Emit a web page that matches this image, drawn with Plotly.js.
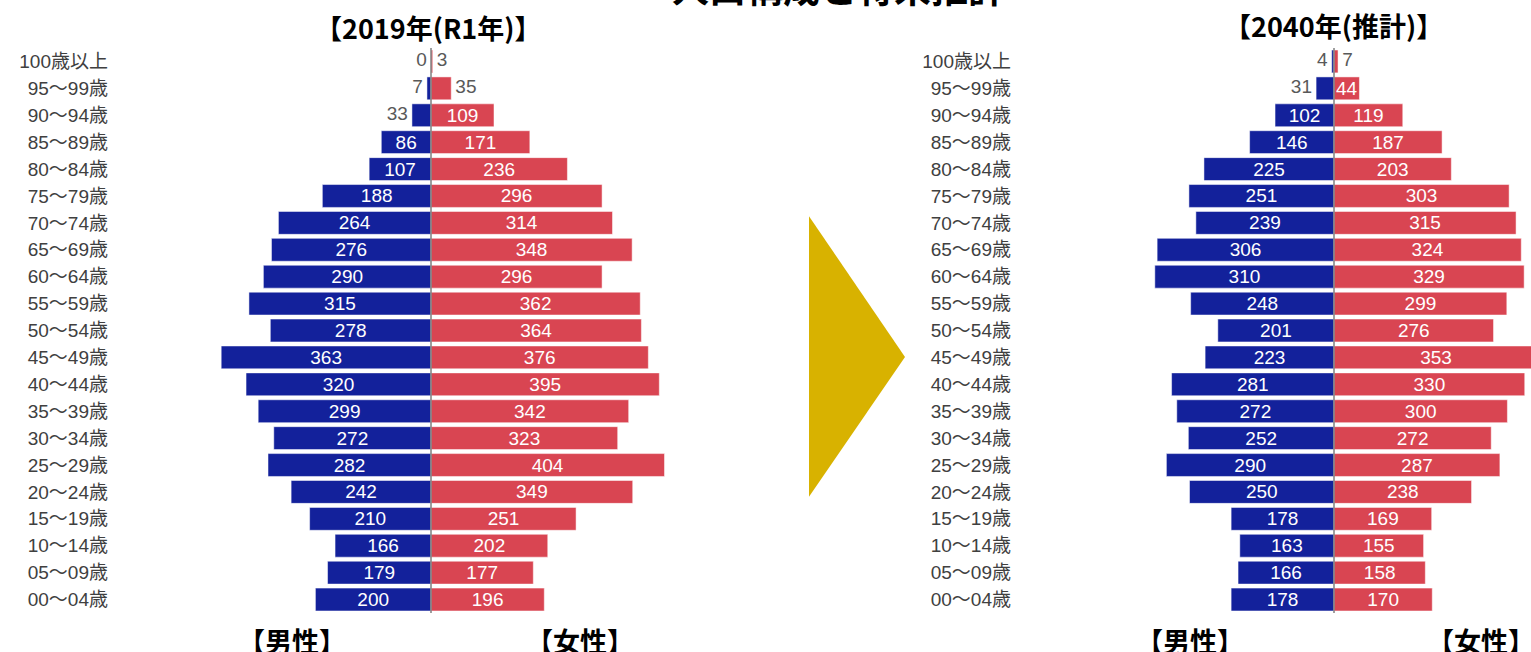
<!DOCTYPE html>
<html>
<head>
<meta charset="utf-8">
<script src="https://cdn.plot.ly/plotly-3.0.1.min.js"></script>
<style>html,body{margin:0;padding:0;background:#fff;overflow:hidden;}#chart{width:1545px;height:652px;}</style>
</head>
<body>
<div id="chart"></div>
<script>
// Age groups, bottom to top
const ageGroups = ["00～04歳","05～09歳","10～14歳","15～19歳","20～24歳","25～29歳","30～34歳","35～39歳","40～44歳","45～49歳","50～54歳","55～59歳","60～64歳","65～69歳","70～74歳","75～79歳","80～84歳","85～89歳","90～94歳","95～99歳","100歳以上"];
const male2019   = [200,179,166,210,242,282,272,299,320,363,278,315,290,276,264,188,107,86,33,7,0];
const female2019 = [196,177,202,251,349,404,323,342,395,376,364,362,296,348,314,296,236,171,109,35,3];
const male2040   = [178,166,163,178,250,290,252,272,281,223,201,248,310,306,239,251,225,146,102,31,4];
const female2040 = [170,158,155,169,238,287,272,300,330,353,276,299,329,324,315,303,203,187,119,44,7];

const title2019 = "【2019年(R1年)】";
const title2040 = "【2040年(推計)】";
const mainTitle = "人口構成と将来推計";
const maleLabel = "【男性】";
const femaleLabel = "【女性】";

const W = 1545, H = 652, MT = 47.5, MB = 38.5;
const PH = H - MT - MB;
const px = v => v / W;
const py = v => (H - MB - v) / PH;

const BLUE = "#13219B", RED = "#D94552";
const numFont = "Liberation Sans, Arial, sans-serif";
const cjkBold = "Noto Sans CJK JP, sans-serif";
const SMALL = 40; // values below this are labelled outside the bar

function barTrace(vals, sign, color, xa, ya){
  return {
    type: "bar", orientation: "h",
    y: ageGroups, x: vals.map(v => sign * v),
    text: vals.map(v => String(v)),
    textposition: vals.map(v => v >= SMALL ? "inside" : "none"),
    insidetextanchor: "middle",
    constraintext: "none",
    cliponaxis: false,
    insidetextfont: {family: numFont, size: 19, color: "#ffffff"},
    marker: {color: color, line: {color: "#ffffff", width: 0.5}},
    xaxis: xa, yaxis: ya,
    hoverinfo: "skip", showlegend: false
  };
}
function outsideLabels(vals, sign, xa, ya){
  return {
    type: "scatter", mode: "markers+text",
    y: ageGroups, x: vals.map(v => sign * v),
    text: vals.map(v => v < SMALL ? String(v) : ""),
    textposition: sign < 0 ? "middle left" : "middle right",
    textfont: {family: numFont, size: 19, color: "#595959"},
    marker: {size: 5, color: "rgba(0,0,0,0)"},
    cliponaxis: false,
    xaxis: xa, yaxis: ya,
    hoverinfo: "skip", showlegend: false
  };
}

const traces = [
  barTrace(male2019, -1, BLUE, "x", "y"),
  barTrace(female2019, 1, RED, "x", "y"),
  barTrace(male2040, -1, BLUE, "x2", "y2"),
  barTrace(female2040, 1, RED, "x2", "y2"),
  outsideLabels(male2019, -1, "x", "y"),
  outsideLabels(female2019, 1, "x", "y"),
  outsideLabels(male2040, -1, "x2", "y2"),
  outsideLabels(female2040, 1, "x2", "y2")
];

const scale = 0.578;
const c1 = 431, c2 = 1334;
const l1 = 115, r1 = 760, l2 = 1018, r2 = W;

const yax = {
  type: "category", categoryorder: "array", categoryarray: ageGroups,
  range: [-0.5, 20.5], showgrid: false, showline: false, ticks: "",
  ticklabelstandoff: 6,
  tickfont: {family: "Liberation Sans, Noto Sans CJK JP, sans-serif", size: 19, color: "#404040"},
  fixedrange: true
};
const xax = {
  showgrid: false, showticklabels: false, ticks: "", showline: false,
  zeroline: false, fixedrange: true
};

const layout = {
  width: W, height: H,
  margin: {l: 0, r: 0, t: MT, b: MB, pad: 0},
  paper_bgcolor: "#ffffff", plot_bgcolor: "rgba(0,0,0,0)",
  barmode: "overlay", bargap: 0.15,
  xaxis: Object.assign({}, xax, {domain: [px(l1), px(r1)], range: [(l1 - c1) / scale, (r1 - c1) / scale]}),
  yaxis: Object.assign({}, yax, {anchor: "x"}),
  xaxis2: Object.assign({}, xax, {domain: [px(l2), 1], range: [(l2 - c2) / scale, (r2 - c2) / scale]}),
  yaxis2: Object.assign({}, yax, {anchor: "x2"}),
  shapes: [
    {type: "path", xref: "paper", yref: "paper",
     path: `M ${px(809)} ${py(216)} L ${px(809)} ${py(497)} L ${px(905)} ${py(357)} Z`,
     fillcolor: "#D8B200", line: {width: 0}},
    {type: "line", xref: "x", yref: "y domain", x0: 0, x1: 0, y0: 0, y1: 1, layer: "above",
     line: {color: "#7f7f7f", width: 1.5}},
    {type: "line", xref: "x2", yref: "y2 domain", x0: 0, x1: 0, y0: 0, y1: 1, layer: "above",
     line: {color: "#7f7f7f", width: 1.5}}
  ],
  annotations: [
    {text: mainTitle, x: px(838), y: py(-14), xref: "paper", yref: "paper", showarrow: false, xanchor: "center", yanchor: "middle", font: {family: cjkBold, size: 37, color: "#000000", weight: 700}},
    {text: title2019, x: px(428), y: py(27), xref: "paper", yref: "paper", showarrow: false, xanchor: "center", yanchor: "middle", font: {family: cjkBold, size: 27, color: "#000000", weight: 700}},
    {text: title2040, x: px(1333), y: py(25), xref: "paper", yref: "paper", showarrow: false, xanchor: "center", yanchor: "middle", font: {family: cjkBold, size: 27, color: "#000000", weight: 700}},
    {text: maleLabel, x: px(292), y: py(641), xref: "paper", yref: "paper", showarrow: false, xanchor: "center", yanchor: "middle", font: {family: cjkBold, size: 27, color: "#000000", weight: 700}},
    {text: femaleLabel, x: px(580), y: py(641), xref: "paper", yref: "paper", showarrow: false, xanchor: "center", yanchor: "middle", font: {family: cjkBold, size: 27, color: "#000000", weight: 700}},
    {text: maleLabel, x: px(1190), y: py(641), xref: "paper", yref: "paper", showarrow: false, xanchor: "center", yanchor: "middle", font: {family: cjkBold, size: 27, color: "#000000", weight: 700}},
    {text: femaleLabel, x: px(1481), y: py(641), xref: "paper", yref: "paper", showarrow: false, xanchor: "center", yanchor: "middle", font: {family: cjkBold, size: 27, color: "#000000", weight: 700}}
  ]
};

Plotly.newPlot("chart", traces, layout, {displayModeBar: false, staticPlot: true});
</script>
</body>
</html>
